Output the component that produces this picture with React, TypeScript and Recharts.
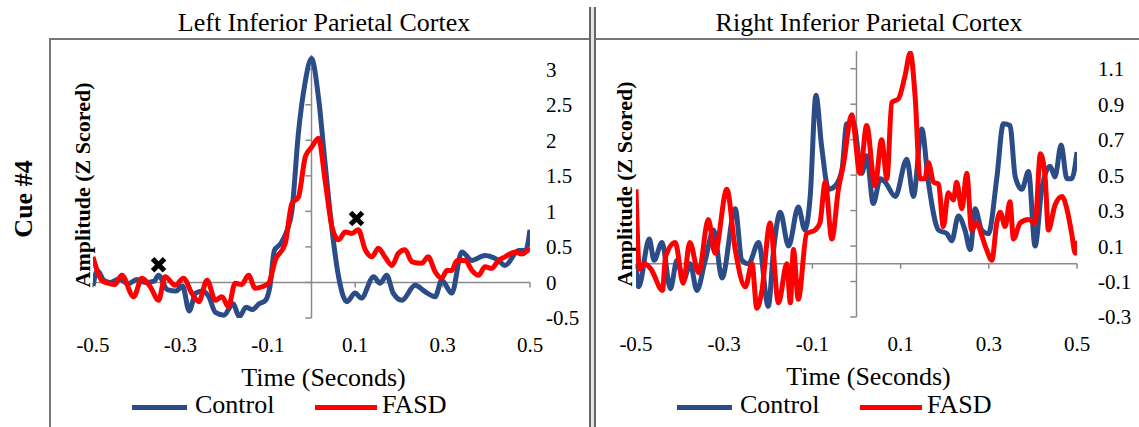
import { ComposedChart, Line, XAxis, YAxis, ReferenceLine, ReferenceDot } from 'recharts';

type Pt = [number, number];

const xTicks = [-0.5, -0.3, -0.1, 0.1, 0.3, 0.5];
const leftYTicks = [-0.5, 0, 0.5, 1, 1.5, 2, 2.5, 3];
const rightYTicks = [-0.3, -0.1, 0.1, 0.3, 0.5, 0.7, 0.9, 1.1];

// [time (s), amplitude]
const leftControl: Pt[] = [
  [-0.5, -0.05], [-0.49, 0.17], [-0.475, 0.03], [-0.46, 0.0], [-0.44, 0.05], [-0.42, -0.02],
  [-0.4, 0.04], [-0.38, 0.0], [-0.36, 0.02], [-0.35, 0.1], [-0.33, -0.1], [-0.31, -0.12],
  [-0.295, -0.05], [-0.28, -0.4], [-0.265, -0.15], [-0.25, -0.12], [-0.235, -0.2], [-0.22, -0.42],
  [-0.2, -0.46], [-0.18, -0.3], [-0.165, -0.48], [-0.15, -0.35], [-0.135, -0.38], [-0.12, -0.3],
  [-0.105, -0.25], [-0.095, -0.05], [-0.085, 0.45], [-0.07, 0.55], [-0.055, 0.75], [-0.045, 1.0],
  [-0.03, 2.1], [-0.015, 2.8], [0.0, 3.15], [0.016, 2.6], [0.031, 1.68], [0.047, 0.74],
  [0.062, 0.08], [0.081, -0.27], [0.1, -0.15], [0.114, -0.22], [0.142, 0.08], [0.157, -0.01],
  [0.172, 0.1], [0.187, -0.15], [0.207, -0.25], [0.237, -0.04], [0.26, -0.13], [0.283, -0.2],
  [0.298, 0.03], [0.321, -0.15], [0.344, 0.43], [0.367, 0.31], [0.397, 0.38], [0.428, 0.31],
  [0.443, 0.24], [0.474, 0.45], [0.49, 0.45], [0.5, 0.74],
];

const leftFasd: Pt[] = [
  [-0.5, 0.36], [-0.48, 0.03], [-0.465, -0.01], [-0.45, -0.03], [-0.434, 0.1], [-0.407, -0.2],
  [-0.388, 0.06], [-0.369, -0.06], [-0.35, -0.25], [-0.335, 0.08], [-0.312, -0.04], [-0.293, 0.06],
  [-0.274, -0.15], [-0.258, -0.27], [-0.239, 0.03], [-0.22, -0.25], [-0.205, -0.2], [-0.19, -0.34],
  [-0.175, -0.01], [-0.16, -0.03], [-0.144, 0.1], [-0.129, -0.08], [-0.113, -0.06], [-0.098, -0.01],
  [-0.083, 0.31], [-0.06, 0.55], [-0.045, 1.11], [-0.03, 1.2], [-0.014, 1.77], [0.0, 1.9],
  [0.016, 2.03], [0.031, 1.44], [0.047, 0.78], [0.062, 0.6], [0.077, 0.71], [0.092, 0.69],
  [0.107, 0.74], [0.123, 0.46], [0.138, 0.36], [0.153, 0.48], [0.168, 0.36], [0.184, 0.24],
  [0.199, 0.41], [0.214, 0.46], [0.23, 0.29], [0.252, 0.27], [0.267, 0.36], [0.283, 0.15],
  [0.298, 0.06], [0.31, 0.17], [0.321, 0.17], [0.333, 0.31], [0.352, 0.31], [0.367, 0.17],
  [0.382, 0.1], [0.397, 0.22], [0.412, 0.2], [0.428, 0.31], [0.443, 0.36], [0.466, 0.43],
  [0.481, 0.4], [0.5, 0.48],
];

const rightControl: Pt[] = [
  [-0.5, 0.0], [-0.494, -0.13], [-0.47, 0.14], [-0.459, 0.02], [-0.441, 0.12], [-0.422, -0.14],
  [-0.407, 0.02], [-0.392, -0.09], [-0.377, 0.0], [-0.362, -0.15], [-0.343, 0.02], [-0.324, 0.19],
  [-0.305, -0.08], [-0.275, 0.31], [-0.26, 0.02], [-0.245, 0.0], [-0.222, 0.12], [-0.2, -0.24],
  [-0.188, 0.08], [-0.173, 0.29], [-0.154, 0.1], [-0.132, 0.32], [-0.117, 0.19], [-0.105, 0.38],
  [-0.092, 0.95], [-0.079, 0.66], [-0.063, 0.42], [-0.048, 0.44], [-0.033, 0.53], [-0.022, 0.79],
  [-0.007, 0.79], [0.012, 0.51], [0.023, 0.61], [0.038, 0.34], [0.054, 0.48], [0.065, 0.46],
  [0.088, 0.38], [0.114, 0.59], [0.129, 0.38], [0.148, 0.76], [0.163, 0.46], [0.186, 0.19],
  [0.205, 0.17], [0.216, 0.13], [0.231, 0.27], [0.246, 0.19], [0.258, 0.08], [0.269, 0.31],
  [0.284, 0.19], [0.299, 0.17], [0.318, 0.48], [0.333, 0.79], [0.348, 0.78], [0.36, 0.49],
  [0.375, 0.42], [0.39, 0.52], [0.405, 0.1], [0.42, 0.42], [0.439, 0.55], [0.45, 0.49],
  [0.464, 0.67], [0.477, 0.48], [0.488, 0.48], [0.5, 0.63],
];

const rightFasd: Pt[] = [
  [-0.5, 0.42], [-0.492, -0.03], [-0.481, 0.0], [-0.466, -0.03], [-0.44, -0.15], [-0.433, 0.04],
  [-0.411, 0.12], [-0.393, -0.11], [-0.378, 0.12], [-0.358, -0.05], [-0.336, 0.25], [-0.321, 0.06],
  [-0.294, 0.42], [-0.275, 0.08], [-0.252, -0.13], [-0.237, 0.0], [-0.226, -0.25], [-0.215, -0.16],
  [-0.196, 0.23], [-0.177, -0.22], [-0.158, 0.0], [-0.15, -0.22], [-0.143, 0.08], [-0.132, -0.2],
  [-0.113, 0.17], [-0.094, 0.19], [-0.083, 0.23], [-0.071, 0.46], [-0.056, 0.14], [-0.041, 0.42],
  [-0.029, 0.57], [-0.011, 0.84], [0.008, 0.51], [0.023, 0.78], [0.042, 0.44], [0.057, 0.7],
  [0.069, 0.48], [0.08, 0.91], [0.095, 0.93], [0.11, 1.06], [0.122, 1.19], [0.133, 0.94],
  [0.144, 0.48], [0.155, 0.48], [0.163, 0.57], [0.175, 0.46], [0.186, 0.45], [0.197, 0.21],
  [0.208, 0.4], [0.22, 0.36], [0.227, 0.46], [0.239, 0.31], [0.25, 0.51], [0.261, 0.19],
  [0.273, 0.23], [0.284, 0.16], [0.295, 0.08], [0.307, 0.02], [0.318, 0.23], [0.326, 0.29],
  [0.337, 0.21], [0.348, 0.35], [0.356, 0.14], [0.371, 0.23], [0.39, 0.25], [0.405, 0.23],
  [0.417, 0.62], [0.428, 0.48], [0.435, 0.19], [0.45, 0.33], [0.466, 0.38], [0.477, 0.31],
  [0.488, 0.17], [0.496, 0.06], [0.5, 0.13],
];

// significance markers (left panel only)
const leftMarkers: Pt[] = [[-0.35, 0.25], [0.103, 0.9]];

const BLUE = '#2b4c87';
const RED = '#ff0000';
const AXIS = '#8a8a8a';
const FONT = '"Liberation Serif", "Times New Roman", serif';

const toRows = (pts: Pt[]) => pts.map(([t, v]) => ({ t, v }));

const Cross = (props: any) => {
  const { cx, cy } = props;
  const s = 6;
  return (
    <g stroke="#000" strokeWidth={5} strokeLinecap="butt">
      <line x1={cx - s} y1={cy - s} x2={cx + s} y2={cy + s} />
      <line x1={cx - s} y1={cy + s} x2={cx + s} y2={cy - s} />
    </g>
  );
};

interface PanelProps {
  left: number;
  width: number;
  margin: { top: number; right: number; bottom: number; left: number };
  yDomain: [number, number];
  yTicks: number[];
  yAxisWidth: number;
  yTickGap: number;
  xTickLen: number;
  yTickLen: number;
  control: Pt[];
  fasd: Pt[];
  markers: Pt[];
}

function Panel(p: PanelProps) {
  const [yMin, yMax] = p.yDomain;
  const tickStyle = { fill: '#000', fontSize: 21, fontFamily: FONT };
  return (
    <div style={{ position: 'absolute', left: p.left, top: 0 }}>
      <ComposedChart width={p.width} height={427} margin={p.margin}>
        <XAxis
          dataKey="t"
          type="number"
          domain={[-0.5, 0.5]}
          ticks={xTicks}
          interval={0}
          allowDataOverflow
          axisLine={false}
          tickLine={false}
          tickSize={0}
          tickMargin={19}
          height={40}
          tick={tickStyle}
          label={{ value: 'Time (Seconds)', position: 'bottom', offset: 10, dx: 12, fill: '#000', fontSize: 26, fontFamily: FONT }}
        />
        <YAxis
          orientation="right"
          type="number"
          domain={p.yDomain}
          ticks={p.yTicks}
          interval={0}
          allowDataOverflow
          axisLine={false}
          tickLine={false}
          tickSize={0}
          tickMargin={p.yTickGap}
          width={p.yAxisWidth}
          tick={tickStyle}
        />
        <ReferenceLine y={0} stroke={AXIS} strokeWidth={1.5} />
        <ReferenceLine segment={[{ x: 0, y: yMin }, { x: 0, y: yMax }]} stroke={AXIS} strokeWidth={1.5} />
        {p.yTicks.map((v) => (
          <ReferenceLine key={`yt${v}`} segment={[{ x: -p.yTickLen, y: v }, { x: 0, y: v }]} stroke={AXIS} strokeWidth={1.5} />
        ))}
        {xTicks.map((v) => (
          <ReferenceLine key={`xt${v}`} segment={[{ x: v, y: 0 }, { x: v, y: -p.xTickLen }]} stroke={AXIS} strokeWidth={1.5} />
        ))}
        <Line data={toRows(p.control)} dataKey="v" type="monotone" stroke={BLUE} strokeWidth={5} dot={false} isAnimationActive={false} />
        <Line data={toRows(p.fasd)} dataKey="v" type="monotone" stroke={RED} strokeWidth={5} dot={false} isAnimationActive={false} />
        {p.markers.map(([t, v]) => (
          <ReferenceDot key={`m${t}`} x={t} y={v} r={6} shape={Cross} />
        ))}
      </ComposedChart>
    </div>
  );
}

const abs = (s: React.CSSProperties): React.CSSProperties => ({ position: 'absolute', fontFamily: FONT, color: '#000', whiteSpace: 'nowrap', ...s });

function LegendRow({ left }: { left: number }) {
  return (
    <>
      <div style={abs({ left, top: 405, width: 55, height: 5, background: BLUE })} />
      <div style={abs({ left: left + 63, top: 390, fontSize: 26, lineHeight: '30px' })}>Control</div>
      <div style={abs({ left: left + 183, top: 405, width: 62, height: 5, background: RED })} />
      <div style={abs({ left: left + 250, top: 390, fontSize: 26, lineHeight: '30px' })}>FASD</div>
    </>
  );
}

export default function App() {
  return (
    <div style={{ position: 'absolute', left: 0, top: 0, width: 1139, height: 427, background: '#fff', overflow: 'hidden' }}>
      {/* figure frame */}
      <div style={abs({ left: 49, top: 38, width: 2, height: 389, background: '#777' })} />
      <div style={abs({ left: 49, top: 38, width: 1090, height: 2, background: '#777' })} />
      <div style={abs({ left: 589, top: 7, width: 3, height: 420, borderLeft: '2px solid #666', borderRight: '2px solid #666', background: '#e4e4e4' })} />

      <div style={abs({ left: 124, top: 8, width: 400, textAlign: 'center', fontSize: 26, lineHeight: '30px' })}>Left Inferior Parietal Cortex</div>
      <div style={abs({ left: 669, top: 8, width: 400, textAlign: 'center', fontSize: 26, lineHeight: '30px' })}>Right Inferior Parietal Cortex</div>

      <div style={abs({ left: 24, top: 199, fontSize: 26, fontWeight: 'bold', transform: 'translate(-50%, -50%) rotate(-90deg)' })}>Cue #4</div>
      <div style={abs({ left: 83, top: 185, fontSize: 22, fontWeight: 'bold', transform: 'translate(-50%, -50%) rotate(-90deg)' })}>Amplitude (Z Scored)</div>
      <div style={abs({ left: 625, top: 184, fontSize: 22, fontWeight: 'bold', transform: 'translate(-50%, -50%) rotate(-90deg)' })}>Amplitude (Z Scored)</div>

      <Panel
        left={0}
        width={590}
        margin={{ top: 55, right: 0, bottom: 69, left: 93 }}
        yDomain={[-0.5, 3.2]}
        yTicks={leftYTicks}
        yAxisWidth={60}
        yTickGap={16}
        xTickLen={0.07}
        yTickLen={0.014}
        control={leftControl}
        fasd={leftFasd}
        markers={leftMarkers}
      />
      <Panel
        left={596}
        width={543}
        margin={{ top: 51, right: 0, bottom: 70, left: 40 }}
        yDomain={[-0.3, 1.2]}
        yTicks={rightYTicks}
        yAxisWidth={62}
        yTickGap={21}
        xTickLen={0.028}
        yTickLen={0.014}
        control={rightControl}
        fasd={rightFasd}
        markers={[]}
      />

      <LegendRow left={132} />
      <LegendRow left={677} />
    </div>
  );
}
